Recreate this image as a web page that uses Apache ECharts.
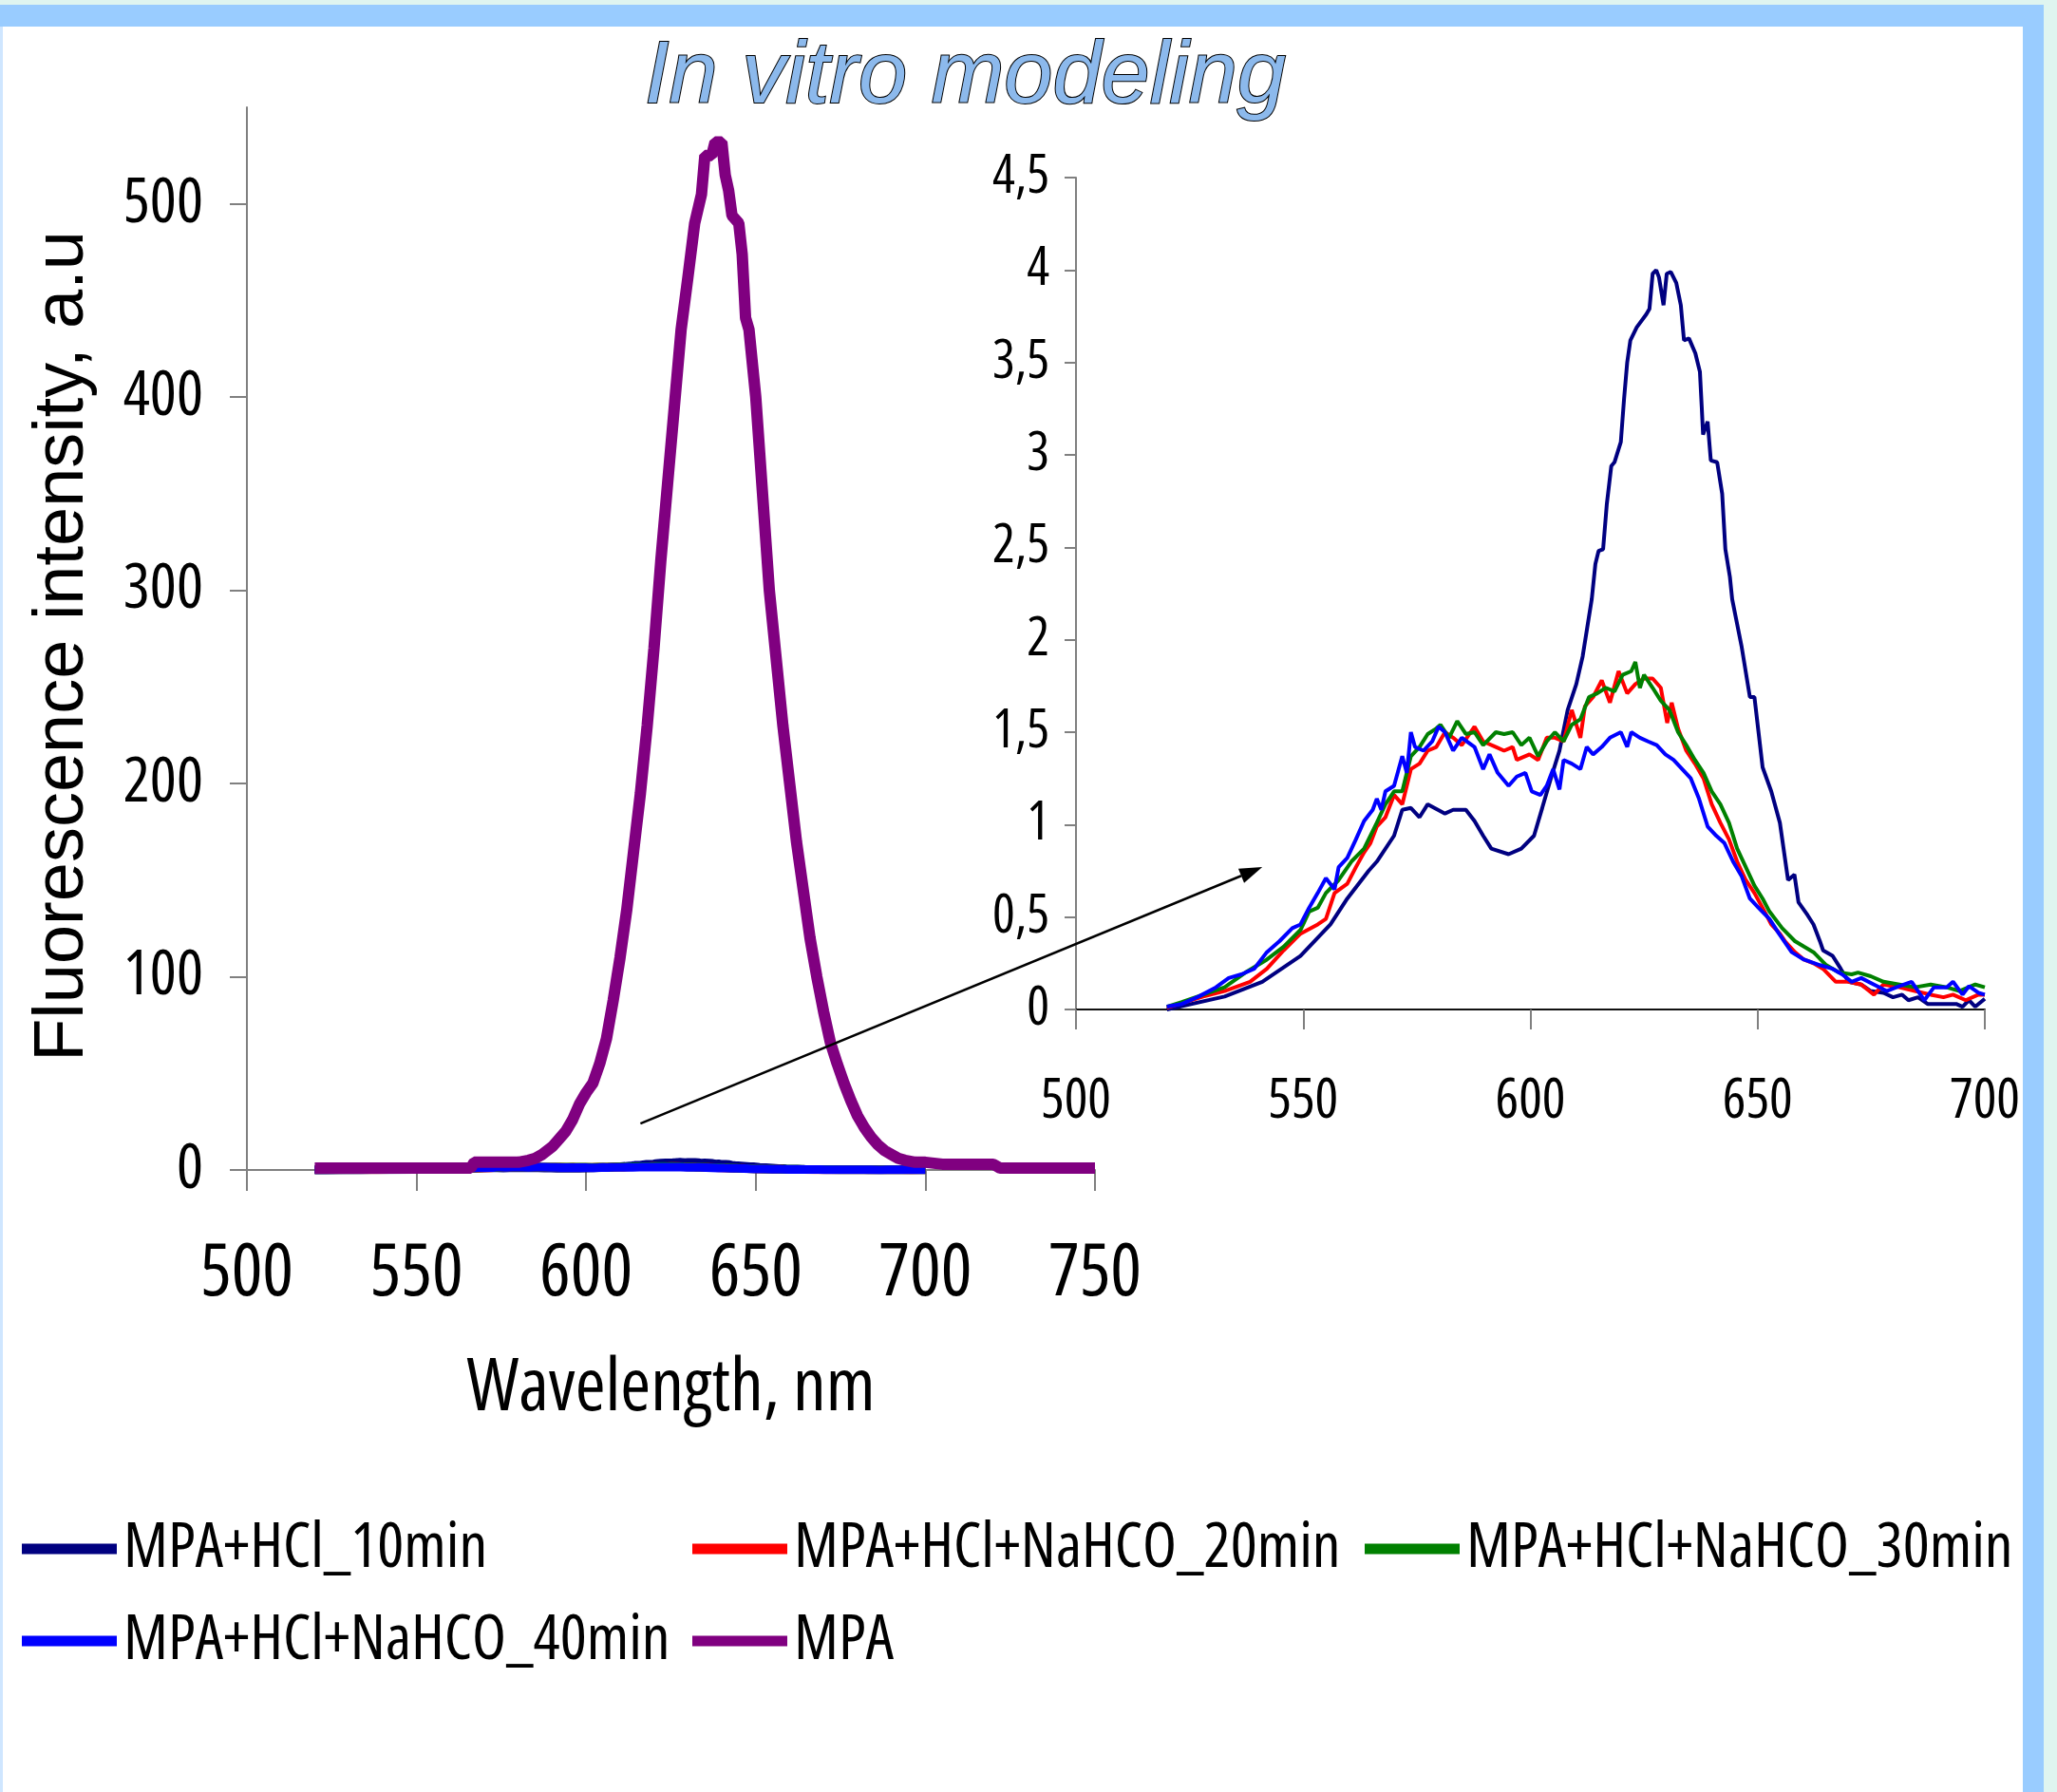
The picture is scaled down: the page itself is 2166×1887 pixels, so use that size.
<!DOCTYPE html>
<html><head><meta charset="utf-8">
<script src="https://cdn.jsdelivr.net/npm/echarts@6/dist/echarts.min.js"></script>
<style>
html,body{margin:0;padding:0;width:2166px;height:1887px;overflow:hidden;background:#dff5f0;}
#frame{position:absolute;left:0;top:5px;width:2152px;height:1882px;background:#99ccff;}
#edge{position:absolute;left:0;top:28px;width:3px;height:1859px;background:#cfe6ff;}
#paper{position:absolute;left:3px;top:28px;width:2127px;height:1859px;background:#fff;}
#chart{position:absolute;left:0;top:0;width:2166px;height:1887px;}
</style></head><body>
<div id="frame"></div><div id="edge"></div><div id="paper"></div><div id="chart"></div>
<script>
const seriesNames = ['MPA+HCl_10min','MPA+HCl+NaHCO_20min','MPA+HCl+NaHCO_30min','MPA+HCl+NaHCO_40min','MPA'];
const seriesColors = ['#000080','#ff0000','#008000','#0000ff','#800080'];
// [wavelength nm, intensity a.u.]
const hcl10 = [[520,0],[532.7,0.07],[541,0.15],[549.4,0.29],[556,0.46],[559.7,0.6],[564.4,0.75],[566.2,0.8],[570,0.94],[571.8,1.08],[573.7,1.09],[575.6,1.04],[577.4,1.11],[581.2,1.06],[583,1.08],[585.8,1.08],[587.7,1.02],[589.6,0.94],[591.4,0.87],[595.2,0.84],[598,0.87],[600.8,0.94],[602.6,1.09],[604.5,1.25],[606.4,1.4],[608.2,1.62],[610.1,1.76],[611.5,1.91],[613.5,2.22],[614.3,2.41],[615,2.48],[616,2.49],[616.8,2.73],[617.8,2.94],[618.5,2.96],[619.9,3.07],[620.6,3.3],[621.3,3.5],[622,3.62],[623.4,3.69],[625.5,3.76],[626.2,3.79],[626.9,3.98],[627.7,4],[628.3,3.96],[629.3,3.81],[630,3.98],[630.9,3.99],[632.1,3.93],[633.1,3.81],[633.8,3.62],[634.9,3.63],[636.3,3.55],[637.3,3.45],[637.7,3.26],[638,3.11],[639,3.18],[639.7,2.97],[641.1,2.96],[642.2,2.79],[642.9,2.49],[643.9,2.34],[644.4,2.22],[646.5,1.96],[648.3,1.69],[649.3,1.69],[651.1,1.31],[653,1.18],[654.9,1.01],[656.7,0.7],[658.1,0.73],[659,0.58],[661,0.51],[662.3,0.46],[663.7,0.37],[664.4,0.32],[666.5,0.29],[668.3,0.22],[670,0.15],[672.8,0.135],[674.9,0.1],[677.7,0.09],[679.8,0.066],[681.8,0.08],[683.2,0.05],[685.3,0.066],[687.4,0.03],[690.2,0.03],[693.7,0.03],[695.1,0.015],[696.5,0.05],[697.9,0.015],[700,0.058]];
const naHco20 = [[520,0.01],[528,0.07],[532.7,0.1],[538.3,0.15],[542,0.22],[545.7,0.32],[549.4,0.41],[553.2,0.46],[555,0.49],[556.9,0.63],[559.7,0.68],[561.6,0.77],[563.4,0.85],[564.8,0.9],[566.2,0.99],[568.1,1.04],[570,1.16],[571.8,1.11],[573.7,1.3],[575.6,1.33],[577.4,1.4],[579.3,1.42],[581.2,1.5],[583,1.47],[584.9,1.43],[587.7,1.53],[589.6,1.45],[592.4,1.42],[594.2,1.4],[596.1,1.42],[597,1.35],[599.8,1.38],[601.7,1.35],[603.6,1.47],[605.4,1.47],[607.3,1.45],[609.1,1.62],[611,1.47],[612,1.64],[613.8,1.69],[615.7,1.78],[617.5,1.66],[619.4,1.83],[621.3,1.71],[623.1,1.76],[625,1.79],[626.9,1.79],[628.7,1.74],[630.1,1.55],[631.1,1.66],[632.5,1.52],[634.3,1.4],[636.2,1.33],[638.1,1.25],[639.9,1.11],[641.8,1.01],[643.7,0.92],[645.5,0.8],[647.4,0.7],[649.3,0.63],[651.1,0.55],[653,0.46],[654.9,0.41],[656,0.37],[658.2,0.31],[660.2,0.27],[662.3,0.25],[664.4,0.22],[667.2,0.15],[670,0.15],[672.8,0.135],[675.6,0.08],[677.7,0.135],[681.2,0.12],[684.6,0.1],[688.1,0.08],[690.9,0.066],[693,0.08],[695.8,0.05],[698.6,0.08],[700,0.08]];
const naHco30 = [[520,0.015],[523.3,0.04],[528,0.08],[532.7,0.12],[537.3,0.2],[542,0.27],[545.7,0.34],[549.4,0.43],[551.3,0.53],[553.2,0.55],[555,0.63],[557.8,0.7],[560.6,0.8],[563.4,0.87],[566.2,1.01],[568.1,1.11],[570,1.18],[571.8,1.18],[573.7,1.37],[575.6,1.42],[577.4,1.49],[579.3,1.52],[580.2,1.54],[582.1,1.47],[583.9,1.56],[585.8,1.49],[587.7,1.5],[589.6,1.43],[592.4,1.5],[594.2,1.49],[596.1,1.5],[598,1.43],[599.8,1.47],[601.7,1.37],[603.6,1.45],[605.4,1.5],[607.3,1.45],[609.1,1.54],[611,1.57],[612.9,1.69],[614.7,1.71],[616.6,1.74],[618.5,1.72],[620.3,1.81],[622.2,1.83],[623.1,1.88],[624.1,1.74],[625,1.81],[626.9,1.74],[628.7,1.67],[630.6,1.62],[632.5,1.5],[634.3,1.43],[636.2,1.35],[638.1,1.28],[639.9,1.18],[641.8,1.11],[643.7,1.01],[645.5,0.87],[647.4,0.77],[649.3,0.67],[651.1,0.6],[652.6,0.53],[655.4,0.44],[658.2,0.37],[660.2,0.34],[662.3,0.31],[665.1,0.24],[667.9,0.2],[670.7,0.19],[672.1,0.2],[674.9,0.18],[677.7,0.15],[681.2,0.135],[684.6,0.12],[688.1,0.135],[691.6,0.12],[694.4,0.1],[697.9,0.135],[700,0.12]];
const naHco40 = [[520,0.015],[523.3,0.03],[527,0.07],[530.8,0.12],[533.6,0.17],[536.4,0.19],[539.2,0.22],[542,0.31],[544.8,0.37],[547.6,0.44],[549.4,0.46],[551.3,0.55],[553.2,0.63],[555,0.71],[556.9,0.65],[557.8,0.77],[559.7,0.82],[561.6,0.92],[563.4,1.02],[565.3,1.08],[566.2,1.14],[567.2,1.08],[568.1,1.18],[570,1.21],[571.8,1.37],[572.8,1.28],[573.7,1.5],[574.6,1.42],[576.5,1.4],[578.4,1.45],[579.8,1.53],[581.2,1.5],[583,1.4],[584.9,1.47],[587.7,1.42],[589.6,1.3],[591,1.38],[592.8,1.28],[595.2,1.21],[597,1.26],[598.9,1.28],[600.3,1.18],[602.2,1.16],[603.6,1.21],[605,1.3],[606.4,1.19],[607.3,1.35],[609.1,1.33],[611,1.3],[612.4,1.42],[613.8,1.38],[615.7,1.42],[617.5,1.47],[619.9,1.5],[621.3,1.42],[622.2,1.5],[624.1,1.47],[625.9,1.45],[627.8,1.43],[629.7,1.38],[631.5,1.35],[633.4,1.3],[635.3,1.25],[637.1,1.14],[639,0.99],[640.9,0.94],[642.7,0.9],[644.6,0.8],[646.5,0.72],[648.3,0.6],[650.2,0.55],[652.6,0.49],[654.7,0.41],[657.5,0.31],[660.2,0.27],[663.7,0.24],[666.5,0.22],[668.6,0.19],[670.7,0.15],[672.8,0.17],[675.6,0.135],[678.4,0.1],[681.2,0.126],[683.9,0.15],[686.7,0.05],[688.8,0.12],[691.6,0.12],[693,0.15],[695.1,0.08],[696.5,0.126],[698.6,0.09],[700,0.08]];
const mpa = [[520,1],[530,1],[540,1],[550,1],[560,1],[566,1],[567,4],[570,4],[575,4],[580,4],[583,5],[585,6],[587,8],[590,12],[592,16],[594,20],[596,26],[598,34],[600,40],[602,45],[604,55],[606,68],[608,88],[610,110],[612,135],[614,165],[616,195],[618,230],[620,270],[622,315],[624,355],[626,395],[628,435],[630,462],[632,490],[634,505],[635,525],[637,525],[638,532],[640,532],[641,515],[642,507],[643,494],[645,490],[646,474],[647,441],[648,435],[650,400],[652,350],[654,300],[656,265],[658,230],[660,200],[662,170],[664,145],[666,120],[668,100],[670,82],[672,66],[674,55],[676,45],[678,36],[680,28],[682,22],[684,17],[686,13],[688,10],[690,8],[692,6],[694,5],[697,4],[700,4],[705,3],[710,3],[715,3],[720,3],[722,1],[730,1],[740,1],[750,1]];
const mainYTicks = [0,100,200,300,400,500];
const arrowFrom = [616, 24];   // main chart coords
const arrowTo = [541, 0.77];   // inset chart coords

const SANS = "'Liberation Sans', Arial, sans-serif";
const COND = "'Open Sans', 'Liberation Sans', sans-serif";
const allData = [hcl10, naHco20, naHco30, naHco40, mpa];
const chart = echarts.init(document.getElementById('chart'));

const legendPos = [[23,1598],[729,1598],[1437,1598],[23,1695],[729,1695]];
const legends = seriesNames.map((n,i)=>({
  data:[n], left:legendPos[i][0], top:legendPos[i][1], padding:0, itemGap:0,
  itemWidth:100, itemHeight:11, icon:'rect',
  textStyle:{fontSize:66, fontWeight:'condensed', fontFamily:COND, color:'#000', padding:[0,0,0,2]}
}));
const series = [];
allData.forEach((d,i)=>{
  series.push({name:seriesNames[i], type:'line', xAxisIndex:0, yAxisIndex:0, data:d,
    showSymbol:false, symbol:'none', color:seriesColors[i],
    lineStyle:{width: i===4 ? 12 : 9, color:seriesColors[i]}, z: 2+i});
});
for (let i=0;i<4;i++){
  series.push({name:seriesNames[i], type:'line', xAxisIndex:1, yAxisIndex:1, data:allData[i],
    showSymbol:false, symbol:'none', color:seriesColors[i],
    lineStyle:{width:4, color:seriesColors[i]}, z: 2+i});
}
const gray = '#808080';
chart.setOption({
  animation:false, backgroundColor:'transparent',
  title:{text:'In vitro modeling', left:674, top:31,
    textStyle:{fontFamily:SANS, fontStyle:'italic', fontWeight:'normal', fontSize:92,
      color:'#8cb9ec', textBorderColor:'#000', textBorderWidth:2}},
  legend:legends,
  grid:[{left:260, top:113, width:893, height:1119},{left:1133, top:187, width:957, height:876}],
  xAxis:[
    {type:'value', gridIndex:0, min:500, max:750, interval:50,
     axisLine:{show:true, onZero:false, lineStyle:{color:gray, width:2}},
     axisTick:{show:true, length:22, lineStyle:{color:gray, width:2}},
     splitLine:{show:false},
     axisLabel:{margin:72, fontSize:77, fontWeight:'condensed', fontFamily:COND, color:'#000'},
     name:'Wavelength, nm', nameLocation:'middle', nameGap:193,
     nameTextStyle:{fontSize:77, fontWeight:'condensed', fontFamily:COND, color:'#000'}},
    {type:'value', gridIndex:1, min:500, max:700, interval:50,
     axisLine:{show:true, onZero:false, lineStyle:{color:'#111', width:2}},
     axisTick:{show:true, length:21, lineStyle:{color:gray, width:2}},
     splitLine:{show:false},
     axisLabel:{margin:68, fontSize:58, fontWeight:'condensed', fontFamily:COND, color:'#000'}}
  ],
  yAxis:[
    {type:'value', gridIndex:0, min:0, max:550, interval:100,
     axisLine:{show:true, onZero:false, lineStyle:{color:gray, width:2}},
     axisTick:{show:true, length:18, customValues:mainYTicks, lineStyle:{color:gray, width:2}},
     splitLine:{show:false},
     axisLabel:{margin:46, fontSize:66, fontWeight:'semi-condensed', fontFamily:COND, color:'#000', customValues:mainYTicks,
       formatter:v=> v>500 ? '' : String(v)},
     name:'Fluorescence intensity, a.u', nameLocation:'middle', nameGap:156, nameRotate:90,
     nameTextStyle:{fontSize:74, fontFamily:SANS, color:'#000', padding:[0,0,0,-16]}},
    {type:'value', gridIndex:1, min:0, max:4.5, interval:0.5,
     axisLine:{show:true, onZero:false, lineStyle:{color:gray, width:2}},
     axisTick:{show:true, length:12, lineStyle:{color:gray, width:2}},
     splitLine:{show:false},
     axisLabel:{margin:28, fontSize:56, fontWeight:'condensed', fontFamily:COND, color:'#000',
       formatter:v=> String(v).replace('.', ',')}}
  ],
  series:series
});
const p0 = chart.convertToPixel({gridIndex:0}, arrowFrom);
const p1 = chart.convertToPixel({gridIndex:1}, arrowTo);
const dx = p1[0]-p0[0], dy = p1[1]-p0[1], L = Math.hypot(dx,dy);
const ux = dx/L, uy = dy/L, hl = 24, hw = 8;
const bx = p1[0]-ux*hl, by = p1[1]-uy*hl;
chart.setOption({graphic:[
  {type:'line', z:50, shape:{x1:p0[0], y1:p0[1], x2:bx, y2:by}, style:{stroke:'#000', lineWidth:2.5}},
  {type:'polygon', z:50, shape:{points:[[p1[0],p1[1]],[bx-uy*hw, by+ux*hw],[bx+uy*hw, by-ux*hw]]}, style:{fill:'#000'}}
]});
</script></body></html>
